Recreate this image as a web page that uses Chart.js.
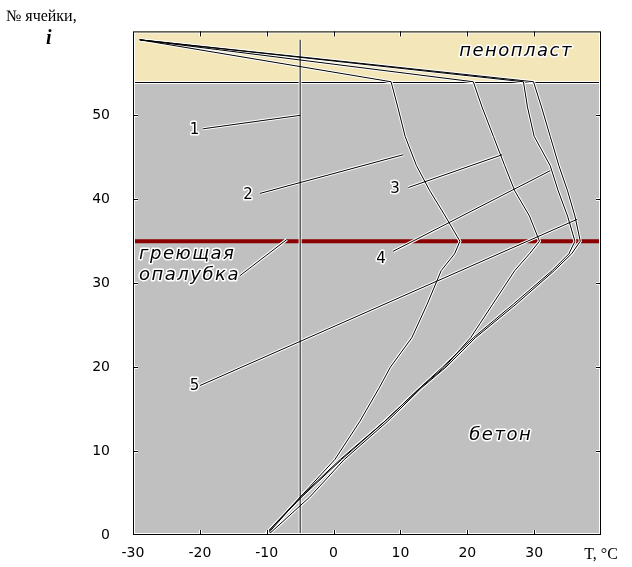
<!DOCTYPE html>
<html>
<head>
<meta charset="utf-8">
<script src="https://cdn.jsdelivr.net/npm/chart.js@4.4.0/dist/chart.umd.min.js"></script>
<style>html, body { margin: 0; background: #fff; }</style>
</head>
<body>
<canvas id="chart" width="632" height="567"></canvas>
<script>
// номера ячеек, в которых сняты температуры
const cells = [0, 4.5, 9, 13.5, 17.5, 20, 23.5, 27.5, 31.5, 33.5, 35, 38, 41, 44, 47.5, 51, 54, 59];
// профили температур, °C
const curve2 = [-10.3, -5.0, 0.2, 3.9, 6.8, 8.5, 11.7, 14.0, 16.1, 18.1, 18.9, 16.7, 14.4, 12.4, 10.7, 9.6, 8.6, -29];
const curve3 = [-10.3, -4.8, 1.2, 7.6, 12.9, 16.6, 20.5, 23.8, 27.1, 29.3, 30.8, 29.3, 27.1, 25.6, 23.9, 22.2, 20.9, -29];
const curve4 = [-10.0, -5.0, 1.0, 7.6, 12.9, 16.3, 20.9, 26.9, 32.7, 35.2, 36.1, 35.0, 33.6, 32.4, 30.0, 29.0, 28.4, -29];
const curve5 = [-9.8, -3.6, 1.6, 8.0, 13.1, 16.8, 21.2, 27.3, 33.0, 35.6, 36.9, 36.1, 35.0, 33.7, 32.4, 31.1, 29.9, -29];
// начальное состояние (кривая 1)
const curve1Cells = [0, 59];
const curve1 = [-5, -5];

const xTicks = [-30, -20, -10, 0, 10, 20, 30, 40];
const yTicks = [0, 10, 20, 30, 40, 50, 60];
const foamFrom = 54;      // граница бетон / пенопласт
const formworkCell = 35;  // греющая опалубка

// подписи кривых и выноски (в единицах осей)
const labelTexts = ["1", "2", "3", "4", "5"];
const labelAt = [[-20.8, 48.2], [-12.8, 40.5], [9.2, 41.2], [7.1, 32.9], [-20.8, 17.7]];
const leaderFrom = [[-19.5, 48.4], [-11.0, 40.7], [11.2, 41.4], [8.9, 33.8], [-20.0, 17.8], [-14.0, 30.9]];
const leaderTo = [[-5.0, 50.0], [10.4, 45.3], [25.2, 45.3], [32.4, 43.4], [36.4, 37.6], [-7.0, 35.2]];

const pts = (xs, ys) => xs.map((v, i) => ({ x: v, y: ys[i] }));

const lines = [
  pts(curve1, curve1Cells),
  pts(curve2, cells),
  pts(curve3, cells),
  pts(curve4, cells),
  pts(curve5, cells)
];
leaderFrom.forEach((p, i) => lines.push([{ x: p[0], y: p[1] }, { x: leaderTo[i][0], y: leaderTo[i][1] }]));

const datasets = [];
lines.forEach(d => {
  datasets.push({ data: d, showLine: true, borderColor: "#fff", borderWidth: 3, pointRadius: 0, order: 3 });
  datasets.push({ data: d, showLine: true, borderColor: "#000", borderWidth: 1, pointRadius: 0, order: 1 });
});
datasets.push({
  data: [{ x: -30, y: formworkCell }, { x: 40, y: formworkCell }],
  showLine: true, borderColor: "#8b0000", borderWidth: 4, pointRadius: 0, order: 4
});

function haloText(ctx, text, x, y) {
  ctx.lineWidth = 3;
  ctx.strokeStyle = "#fff";
  ctx.lineJoin = "round";
  ctx.strokeText(text, x, y);
  ctx.fillStyle = "#000";
  ctx.fillText(text, x, y);
}

function haloLine(ctx, x1, y1, x2, y2) {
  ctx.lineWidth = 3;
  ctx.strokeStyle = "#fff";
  ctx.beginPath(); ctx.moveTo(x1, y1); ctx.lineTo(x2, y2); ctx.stroke();
  ctx.lineWidth = 1;
  ctx.strokeStyle = "#000";
  ctx.beginPath(); ctx.moveTo(x1, y1); ctx.lineTo(x2, y2); ctx.stroke();
}

const decor = {
  id: "decor",
  beforeDatasetsDraw(chart) {
    const { ctx, chartArea: a, scales: { y } } = chart;
    const yf = Math.round(y.getPixelForValue(foamFrom)) + 0.5;
    ctx.save();
    ctx.fillStyle = "#c0c0c0";
    ctx.fillRect(a.left, yf, a.width, a.bottom - yf);
    ctx.fillStyle = "#f3e7b9";
    ctx.fillRect(a.left, a.top, a.width, yf - a.top);
    haloLine(ctx, a.left, yf, a.right, yf);
    ctx.restore();
  },
  afterDatasetsDraw(chart) {
    const { ctx, chartArea: a, scales: { x, y } } = chart;
    ctx.save();
    // рамка
    ctx.strokeStyle = "#fff";
    ctx.lineWidth = 1;
    ctx.strokeRect(a.left + 1.5, a.top + 1.5, a.width - 3, a.height - 3);
    // засечки внутрь
    xTicks.slice(1, -1).forEach(v => {
      const px = Math.round(x.getPixelForValue(v)) + 0.5;
      haloLine(ctx, px, a.bottom, px, a.bottom - 5);
      haloLine(ctx, px, a.top, px, a.top + 5);
    });
    yTicks.slice(1, -1).forEach(v => {
      const py = Math.round(y.getPixelForValue(v)) + 0.5;
      haloLine(ctx, a.left, py, a.left + 5, py);
      haloLine(ctx, a.right, py, a.right - 5, py);
    });
    ctx.strokeStyle = "#000";
    ctx.lineWidth = 1;
    ctx.strokeRect(a.left + 0.5, a.top + 0.5, a.width - 1, a.height - 1);

    // номера кривых
    ctx.font = "15px 'DejaVu Sans'";
    ctx.textAlign = "center";
    ctx.textBaseline = "middle";
    labelTexts.forEach((t, i) => haloText(ctx, t, x.getPixelForValue(labelAt[i][0]), y.getPixelForValue(labelAt[i][1])));

    // надписи областей
    ctx.font = "italic 18px 'DejaVu Sans'";
    ctx.letterSpacing = "1.5px";
    haloText(ctx, "пенопласт", x.getPixelForValue(27.3), y.getPixelForValue(57.6));
    haloText(ctx, "бетон", x.getPixelForValue(25.0), y.getPixelForValue(11.9));
    ctx.textAlign = "left";
    haloText(ctx, "греющая", x.getPixelForValue(-29.1), y.getPixelForValue(33.4));
    haloText(ctx, "опалубка", x.getPixelForValue(-29.1), y.getPixelForValue(30.9));
    ctx.letterSpacing = "0px";

    // подпись оси Y
    ctx.fillStyle = "#000";
    ctx.textAlign = "left";
    ctx.font = "16px 'Liberation Serif'";
    ctx.fillText("№ ячейки,", 6, 17);
    ctx.font = "bold italic 20px 'Liberation Serif'";
    ctx.fillText("i", 46, 39);
    ctx.restore();
  }
};

new Chart(document.getElementById("chart"), {
  type: "scatter",
  data: { datasets },
  plugins: [decor],
  options: {
    responsive: false,
    animation: false,
    layout: { padding: { top: 27, right: 31, left: 0, bottom: 0 } },
    plugins: { legend: { display: false }, tooltip: { enabled: false } },
    scales: {
      x: {
        type: "linear", min: -30, max: 40,
        afterFit: s => { s.height = 32; },
        afterBuildTicks: s => { s.ticks = xTicks.map(v => ({ value: v })); },
        grid: { display: false, drawTicks: false },
        border: { display: false },
        ticks: {
          padding: 10, color: "#000",
          font: c => (c.tick && c.tick.value === 40
            ? { family: "Liberation Serif", size: 16 }
            : { family: "DejaVu Sans", size: 14 }),
          callback: v => (v === 40 ? "T, °C" : v)
        }
      },
      y: {
        type: "linear", min: 0, max: 60,
        afterFit: s => { s.width = 133; },
        afterBuildTicks: s => { s.ticks = yTicks.map(v => ({ value: v })); },
        grid: { display: false, drawTicks: false },
        border: { display: false },
        ticks: {
          padding: 23, color: "#000", font: { family: "DejaVu Sans", size: 14 },
          callback: v => (v === 60 ? "" : v)
        }
      }
    }
  }
});
</script>
</body>
</html>
